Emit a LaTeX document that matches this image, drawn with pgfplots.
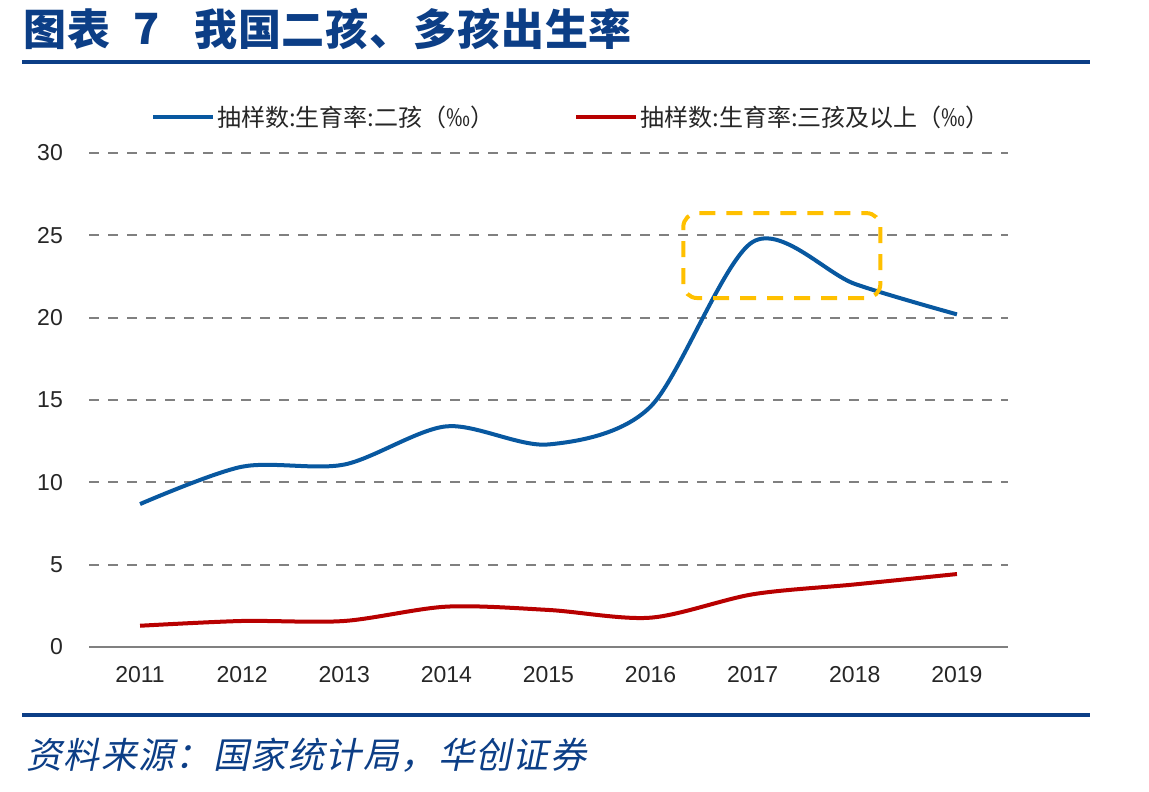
\documentclass[border=0pt]{standalone}
\usepackage{fontspec}
\usepackage{pgfplots}
\pgfplotsset{compat=1.18}
\setmainfont{Liberation Sans}
\newfontfamily\cjk{Noto Sans CJK SC}
\newfontfamily\cjktitle{Noto Sans CJK SC}[LetterSpace=2]
\newfontfamily\cjkit{Noto Sans CJK SC}[FakeSlant=0.2, LetterSpace=4]

\definecolor{navy}{RGB}{12,62,134}
\definecolor{serblue}{RGB}{8,88,160}
\definecolor{serred}{RGB}{184,0,0}
\definecolor{boxorange}{RGB}{255,192,0}
\definecolor{gridgray}{RGB}{128,128,128}

% 二孩出生率（‰）
\pgfplotstableread{
year rate
2011 8.68
2012 10.95
2013 11.08
2014 13.40
2015 12.30
2016 14.60
2017 24.60
2018 22.05
2019 20.20
}\secondchild

% 三孩及以上出生率（‰）
\pgfplotstableread{
year rate
2011 1.29
2012 1.58
2013 1.58
2014 2.45
2015 2.25
2016 1.78
2017 3.20
2018 3.80
2019 4.43
}\thirdchild

\begin{document}
\begin{tikzpicture}
\path[fill=white] (0pt,0pt) rectangle (1149pt,792pt);
% title and rules
\node[anchor=west, text=navy, inner sep=0pt, font=\cjktitle\bfseries\fontsize{43}{47}\selectfont] at (23pt,763pt) {图表};
\node[anchor=west, text=navy, inner sep=0pt, font=\cjk\bfseries\fontsize{43}{47}\selectfont] at (133pt,763pt) {7};
\node[anchor=west, text=navy, inner sep=0pt, font=\cjktitle\bfseries\fontsize{43}{47}\selectfont] at (194pt,763pt) {我国二孩、多孩出生率};
\draw[navy, line width=4pt] (22pt,730pt) -- (1090pt,730pt);
\draw[navy, line width=4pt] (22pt,77pt) -- (1090pt,77pt);
\node[anchor=west, text=navy, inner sep=0pt, font=\cjkit\fontsize{36}{40}\selectfont] at (26pt,37pt) {资料来源：国家统计局，华创证券};

\begin{axis}[
  at={(89pt,145pt)}, anchor=south west,
  scale only axis, width=919pt, height=494pt,
  xmin=2010.5, xmax=2019.5, ymin=0, ymax=30,
  xtick={2011,...,2019}, ytick={0,5,...,30},
  separate axis lines,
  axis x line*=bottom, axis y line*=left,
  x axis line style={gridgray, line width=2pt, -},
  y axis line style={draw=none},
  major tick length=0pt,
  ymajorgrids,
  grid style={gridgray, line width=2.2pt, dash pattern=on 10pt off 9pt},
  /pgf/number format/.cd, 1000 sep={}, assume math mode=true,
  /pgfplots/.cd,
  ticklabel style={font=\fontsize{23}{27}\selectfont, text=black!85},
  yticklabel style={inner sep=0pt, xshift=-26pt},
  xticklabel style={inner sep=0pt, yshift=-19pt},
  legend style={at={(0.525,1.073)}, anchor=center, draw=none, fill=none,
    font=\cjk\fontsize{24}{28}\selectfont, text=black!85,
    /tikz/every even column/.append style={column sep=78pt}},
  legend columns=2,
  legend image code/.code={\draw[#1] (0pt,0pt) -- (60pt,0pt);},
  clip=false,
]
\addplot[serblue, line width=4pt, smooth, tension=0.5] table[x=year, y=rate] {\secondchild};
\addlegendentry{抽样数:生育率:二孩（‰）}
\addplot[serred, line width=4pt, smooth, tension=0.5] table[x=year, y=rate] {\thirdchild};
\addlegendentry{抽样数:生育率:三孩及以上（‰）}
% highlight of the 2017--2018 peak
\draw[boxorange, line width=4pt, dash pattern=on 16pt off 11pt, rounded corners=14pt]
  (axis cs:2016.32,21.19) rectangle (axis cs:2018.25,26.35);
\end{axis}
\end{tikzpicture}
\end{document}
